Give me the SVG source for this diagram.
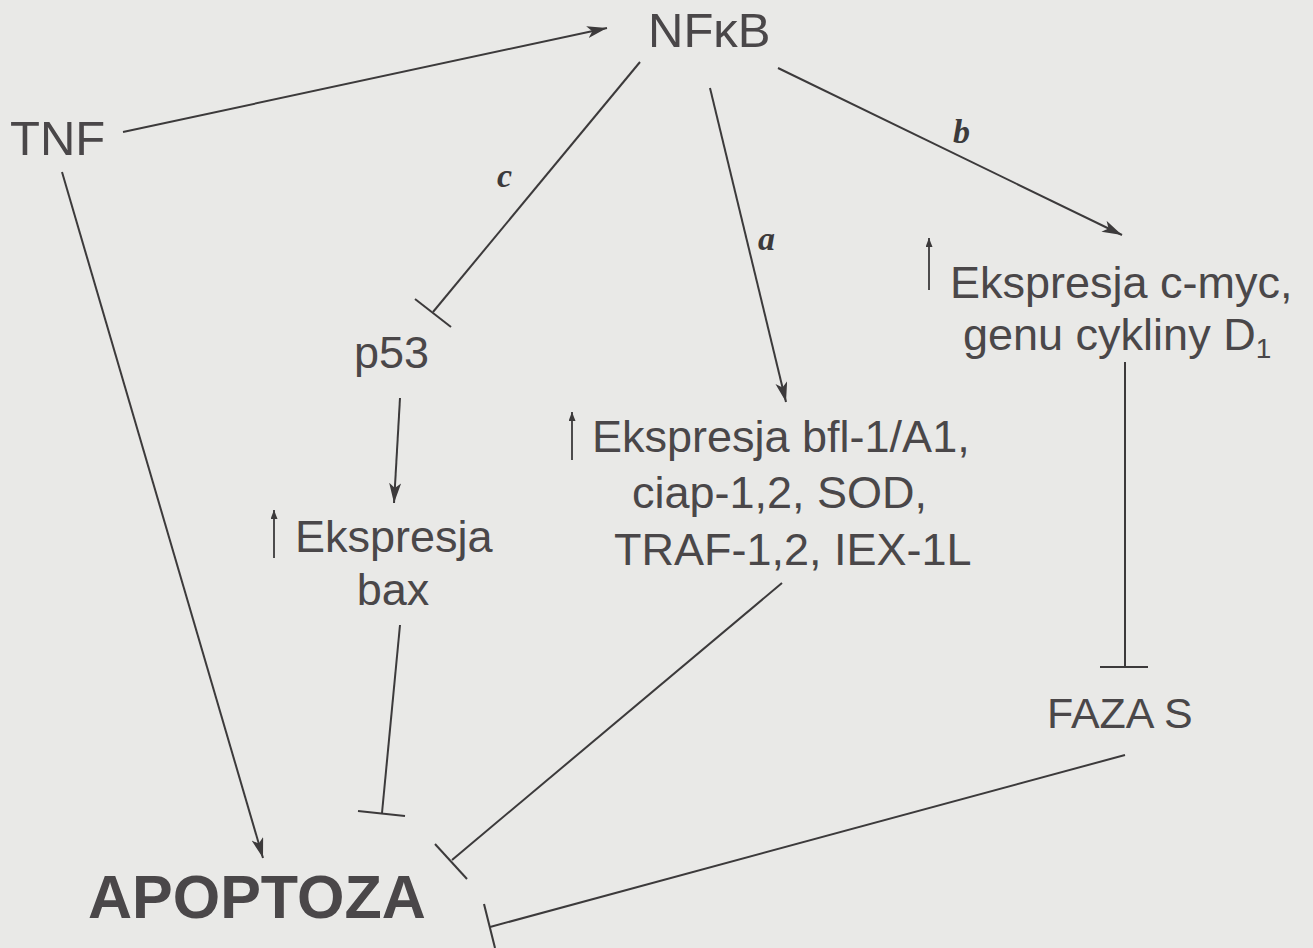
<svg xmlns="http://www.w3.org/2000/svg" width="1313" height="948" viewBox="0 0 1313 948">
<defs>
<marker id="arr" markerUnits="userSpaceOnUse" markerWidth="22" markerHeight="14" refX="20" refY="6" orient="auto">
<path d="M0,0 L20,6 L0,12 L5,6 z" fill="#3c3a3b"/>
</marker>
<marker id="up" markerUnits="userSpaceOnUse" markerWidth="10" markerHeight="12" refX="9" refY="3.5" orient="auto">
<path d="M0,0 L9,3.5 L0,7 z" fill="#3c3a3b"/>
</marker>
<style>
.t{font-family:"Liberation Sans",Arial,sans-serif;fill:#4a4749;font-size:45px}
.big{font-size:49px}
.bold{font-weight:bold;font-size:61px}
.lbl{font-family:"Liberation Serif","Times New Roman",serif;font-weight:bold;font-style:italic;font-size:34px;fill:#3c3a3b}
.ln{stroke:#3c3a3b;stroke-width:2;fill:none}
.ua{stroke:#3c3a3b;stroke-width:1.8;fill:none}
</style>
</defs>
<rect width="1313" height="948" fill="#e9e9e7"/>
<g id="connectors">
<line class="ln" x1="123" y1="132" x2="607" y2="28" marker-end="url(#arr)"/>
<line class="ln" x1="62" y1="172" x2="263" y2="858" marker-end="url(#arr)"/>
<line class="ln" x1="710" y1="88" x2="786" y2="402" marker-end="url(#arr)"/>
<line class="ln" x1="778" y1="68" x2="1122" y2="235" marker-end="url(#arr)"/>
<line class="ln" x1="400" y1="398" x2="394" y2="503" marker-end="url(#arr)"/>
<line class="ln" x1="640" y1="62" x2="433" y2="312"/>
<line class="ln" x1="415" y1="299" x2="451" y2="327"/>
<line class="ln" x1="400" y1="625" x2="382" y2="813"/>
<line class="ln" x1="358" y1="811" x2="405" y2="816"/>
<line class="ln" x1="782" y1="583" x2="452" y2="860"/>
<line class="ln" x1="435" y1="844" x2="467" y2="879"/>
<line class="ln" x1="1125" y1="362" x2="1125" y2="667"/>
<line class="ln" x1="1100" y1="667" x2="1148" y2="667"/>
<line class="ln" x1="1125" y1="755" x2="490" y2="927"/>
<line class="ln" x1="484" y1="904" x2="495" y2="948"/>
<text class="lbl" x="497" y="187">c</text>
<text class="lbl" x="758" y="250">a</text>
<text class="lbl" x="953" y="143">b</text>
</g>
<g id="nfkb"><text class="t big" x="648" y="47">NFκB</text></g>
<g id="tnf"><text class="t big" x="10" y="155">TNF</text></g>
<g id="p53"><text class="t" x="354" y="368">p53</text></g>
<g id="bax">
<line class="ua" x1="274" y1="558" x2="274" y2="510" marker-end="url(#up)"/>
<text class="t" x="295" y="552">Ekspresja</text>
<text class="t" x="393" y="605" text-anchor="middle">bax</text>
</g>
<g id="bfl">
<line class="ua" x1="572" y1="460" x2="572" y2="412" marker-end="url(#up)"/>
<text class="t" x="592" y="452">Ekspresja bfl-1/A1,</text>
<text class="t" x="632" y="508">ciap-1,2, SOD,</text>
<text class="t" x="614" y="565">TRAF-1,2, IEX-1L</text>
</g>
<g id="cmyc">
<line class="ua" x1="929" y1="290" x2="929" y2="238" marker-end="url(#up)"/>
<text class="t" x="950" y="298">Ekspresja c-myc,</text>
<text class="t" x="963" y="350">genu cykliny D<tspan font-size="28" dy="8">1</tspan></text>
</g>
<g id="fazas"><text class="t" x="1047" y="728" style="font-size:43px">FAZA S</text></g>
<g id="apoptoza"><text class="t bold" x="88" y="918">APOPTOZA</text></g>
</svg>
